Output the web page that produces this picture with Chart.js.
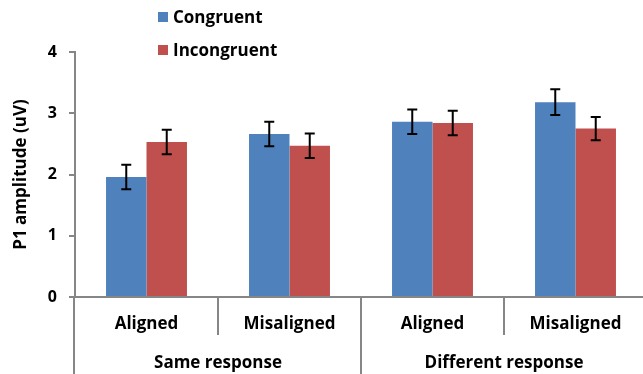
<!DOCTYPE html>
<html>
<head>
<meta charset="utf-8">
<script src="https://cdn.jsdelivr.net/npm/chart.js@4"></script>
<style>
  html, body { margin: 0; padding: 0; background: #fff; overflow: hidden; }
  #wrap { width: 643px; height: 374px; overflow: hidden; }
</style>
</head>
<body>
<div id="wrap"><canvas id="chart" width="648" height="374"></canvas></div>
<script>
const categories = ['Aligned', 'Misaligned', 'Aligned', 'Misaligned'];
const groups = ['Same response', 'Different response'];
const groupSize = 2;
const congruent = [1.96, 2.66, 2.86, 3.18];
const congruentErr = [0.2, 0.2, 0.2, 0.21];
const incongruent = [2.53, 2.47, 2.84, 2.75];
const incongruentErr = [0.2, 0.2, 0.2, 0.19];
const yTicks = [0, 1, 2, 3, 4];

const axisGray = '#868686';
const fontFamily = '"Open Sans", sans-serif';

const errorBars = {
  id: 'errorBars',
  afterDatasetsDraw(chart) {
    const ctx = chart.ctx;
    const y = chart.scales.y;
    ctx.save();
    ctx.strokeStyle = '#000';
    ctx.lineWidth = 2;
    chart.data.datasets.forEach((ds, di) => {
      const meta = chart.getDatasetMeta(di);
      meta.data.forEach((bar, i) => {
        const top = y.getPixelForValue(ds.data[i] + ds.errors[i]);
        const bottom = y.getPixelForValue(ds.data[i] - ds.errors[i]);
        ctx.beginPath();
        ctx.moveTo(bar.x, top);
        ctx.lineTo(bar.x, bottom);
        ctx.moveTo(bar.x - 5, top);
        ctx.lineTo(bar.x + 5, top);
        ctx.moveTo(bar.x - 5, bottom);
        ctx.lineTo(bar.x + 5, bottom);
        ctx.stroke();
      });
    });
    ctx.restore();
  }
};

// separators under the axis, group labels and the legend
const extras = {
  id: 'extras',
  afterDraw(chart) {
    const ctx = chart.ctx;
    const x = chart.scales.x;
    const area = chart.chartArea;
    const h = chart.height;
    ctx.save();
    ctx.strokeStyle = axisGray;
    ctx.lineWidth = 2;
    ctx.beginPath();
    ctx.moveTo(area.left - 1, area.bottom);
    ctx.lineTo(area.left - 1, h);
    for (let i = 0; i < categories.length - 1; i++) {
      const sx = (x.getPixelForValue(i) + x.getPixelForValue(i + 1)) / 2;
      const long = (i + 1) % groupSize === 0;
      ctx.moveTo(sx, area.bottom);
      ctx.lineTo(sx, long ? h : area.bottom + 38);
    }
    ctx.stroke();

    ctx.fillStyle = '#000';
    ctx.font = 'bold 17px ' + fontFamily;
    ctx.textAlign = 'center';
    ctx.textBaseline = 'middle';
    groups.forEach((g, gi) => {
      const a = x.getPixelForValue(gi * groupSize);
      const b = x.getPixelForValue(gi * groupSize + groupSize - 1);
      ctx.fillText(g, (a + b) / 2, 363);
    });

    const lx = area.left + 83;
    ctx.textAlign = 'left';
    chart.data.datasets.forEach((ds, di) => {
      const ly = 17 + di * 33;
      ctx.fillStyle = ds.backgroundColor;
      ctx.fillRect(lx, ly - 5, 10, 10);
      ctx.fillStyle = '#000';
      ctx.fillText(ds.label, lx + 15, ly + 1);
    });
    ctx.restore();
  }
};

new Chart(document.getElementById('chart'), {
  type: 'bar',
  data: {
    labels: categories,
    datasets: [
      { label: 'Congruent', data: congruent, errors: congruentErr, backgroundColor: '#4F81BD' },
      { label: 'Incongruent', data: incongruent, errors: incongruentErr, backgroundColor: '#C0504D' }
    ]
  },
  options: {
    responsive: false,
    animation: false,
    layout: { padding: { top: 52, right: 1, left: 0, bottom: 0 } },
    datasets: { bar: { categoryPercentage: 0.566, barPercentage: 1 } },
    plugins: { legend: { display: false }, tooltip: { enabled: false } },
    scales: {
      x: {
        grid: { display: false, drawTicks: false },
        border: { color: axisGray, width: 2 },
        ticks: { color: '#000', font: { family: fontFamily, size: 17, weight: 'bold' }, padding: 17, maxRotation: 0 },
        afterFit(scale) { scale.height = 77; }
      },
      y: {
        min: 0,
        max: 4,
        afterBuildTicks(scale) { scale.ticks = yTicks.map(v => ({ value: v })); },
        grid: { drawOnChartArea: false, drawTicks: true, tickLength: 6, color: axisGray, lineWidth: 2 },
        border: { color: axisGray, width: 2 },
        ticks: { color: '#000', font: { family: fontFamily, size: 16, weight: 'bold' }, padding: 12 },
        title: {
          display: true,
          text: 'P1 amplitude (uV)',
          color: '#000',
          font: { family: fontFamily, size: 17, weight: 'bold' },
          padding: { top: 11, bottom: 0 }
        },
        afterFit(scale) { scale.width = 75; }
      }
    }
  },
  plugins: [errorBars, extras]
});
</script>
</body>
</html>
